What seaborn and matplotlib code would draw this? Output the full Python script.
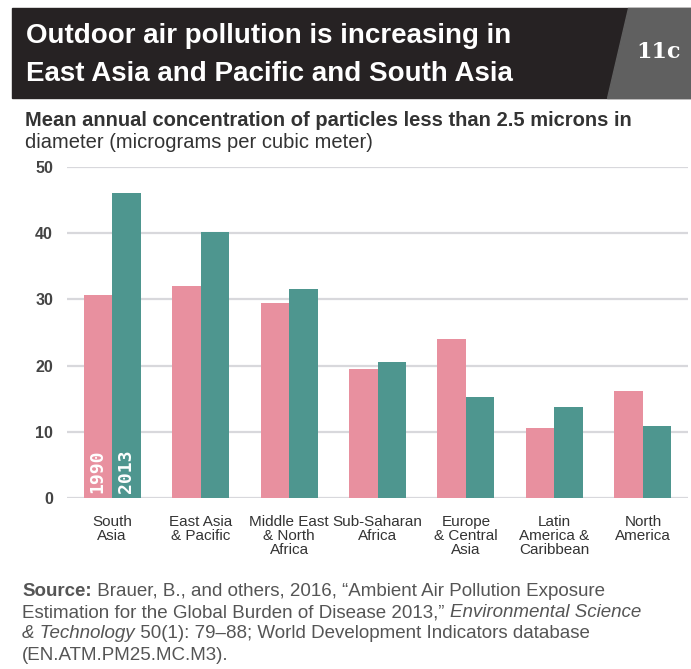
import pandas as pd
import seaborn as sns
import matplotlib.pyplot as plt
from matplotlib.patches import Polygon, Rectangle

regions = ['South\nAsia', 'East Asia\n& Pacific', 'Middle East\n& North\nAfrica',
           'Sub-Saharan\nAfrica', 'Europe\n& Central\nAsia', 'Latin\nAmerica &\nCaribbean',
           'North\nAmerica']
pm25_1990 = [30.6, 32.0, 29.5, 19.5, 24.0, 10.6, 16.1]
pm25_2013 = [46.1, 40.2, 31.6, 20.6, 15.3, 13.7, 10.9]
years = ['1990', '2013']
y_ticks = [0, 10, 20, 30, 40, 50]

df = pd.DataFrame({
    'region': regions * 2,
    'value': pm25_1990 + pm25_2013,
    'year': [years[0]] * len(regions) + [years[1]] * len(regions),
})

sns.set_style('white')
plt.rcParams['font.family'] = ['Liberation Sans', 'DejaVu Sans']

W, H = 691, 669
fig = plt.figure(figsize=(W / 100, H / 100), dpi=100)


def fx(x):
    return x / W


def fy(y):
    return 1 - y / H


# header band
fig.patches.append(Rectangle((fx(12), fy(98)), fx(691) - fx(12), fy(8) - fy(98),
                             transform=fig.transFigure, color='#262223', zorder=0))
fig.patches.append(Polygon([(fx(628), fy(8)), (fx(691), fy(8)), (fx(691), fy(98)), (fx(607), fy(98))],
                           closed=True, transform=fig.transFigure, color='#606060', zorder=1))
fig.text(fx(26), fy(36), 'Outdoor air pollution is increasing in', color='white',
         fontsize=20, fontweight='bold', va='center', ha='left')
fig.text(fx(26), fy(74), 'East Asia and Pacific and South Asia', color='white',
         fontsize=20, fontweight='bold', va='center', ha='left')
fig.text(fx(636), fy(52), '11c', color='white', fontsize=16, fontweight='bold',
         va='center', ha='left', family=['DejaVu Serif'])

fig.text(fx(25), fy(121), 'Mean annual concentration of particles less than 2.5 microns in',
         color='#333333', fontsize=14.5, fontweight='bold', va='center', ha='left')
fig.text(fx(25), fy(142), 'diameter (micrograms per cubic meter)',
         color='#333333', fontsize=14.5, va='center', ha='left')

ax = fig.add_axes([fx(67), fy(498), fx(688) - fx(67), fy(167) - fy(498)])
sns.barplot(data=df, x='region', y='value', hue='year', ax=ax,
            palette=['#e8909f', '#4e968f'], width=0.645, gap=0, linewidth=0,
            saturation=1, legend=False)
ax.set_ylim(0, 50)
ax.set_xlim(-0.51, 6.51)
ax.set_yticks(y_ticks)
ax.yaxis.grid(True, color='#d8d8dc', linewidth=1.6)
ax.set_axisbelow(True)
sns.despine(ax=ax, left=True, bottom=True)
ax.set_xlabel('')
ax.set_ylabel('')
ax.tick_params(axis='y', length=0, pad=10, labelsize=11.5, labelcolor='#444444')
for lab in ax.get_yticklabels():
    lab.set_fontweight('bold')
ax.tick_params(axis='x', length=0, pad=12, labelsize=11, labelcolor='#333333')
for lab in ax.get_xticklabels():
    lab.set_linespacing(1.0)

# year labels inside the first pair of bars
for bar, yr in zip([ax.patches[0], ax.patches[len(regions)]], years):
    cx = bar.get_x() + bar.get_width() / 2
    ax.text(cx, 0.8, yr, rotation=90, color='white', fontsize=13, fontweight='bold',
            ha='center', va='bottom', family=['DejaVu Sans Mono'])

# source note with mixed styles
lines = [
    [('Source:', 'bold', 'normal'), (' Brauer, B., and others, 2016, \u201cAmbient Air Pollution Exposure', 'normal', 'normal')],
    [('Estimation for the Global Burden of Disease 2013,\u201d ', 'normal', 'normal'), ('Environmental Science', 'normal', 'italic')],
    [('& Technology', 'normal', 'italic'), (' 50(1): 79\u201388; World Development Indicators database', 'normal', 'normal')],
    [('(EN.ATM.PM25.MC.M3).', 'normal', 'normal')],
]
fig.canvas.draw()
renderer = fig.canvas.get_renderer()
for i, parts in enumerate(lines):
    x = fx(22)
    y = fy(591 + i * 21.5)
    for txt, wt, st in parts:
        t = fig.text(x, y, txt, color='#555555', fontsize=13.5, fontweight=wt, fontstyle=st,
                     va='center', ha='left')
        bb = t.get_window_extent(renderer=renderer)
        x += bb.width / fig.bbox.width

fig.savefig('out.png', dpi=100)
